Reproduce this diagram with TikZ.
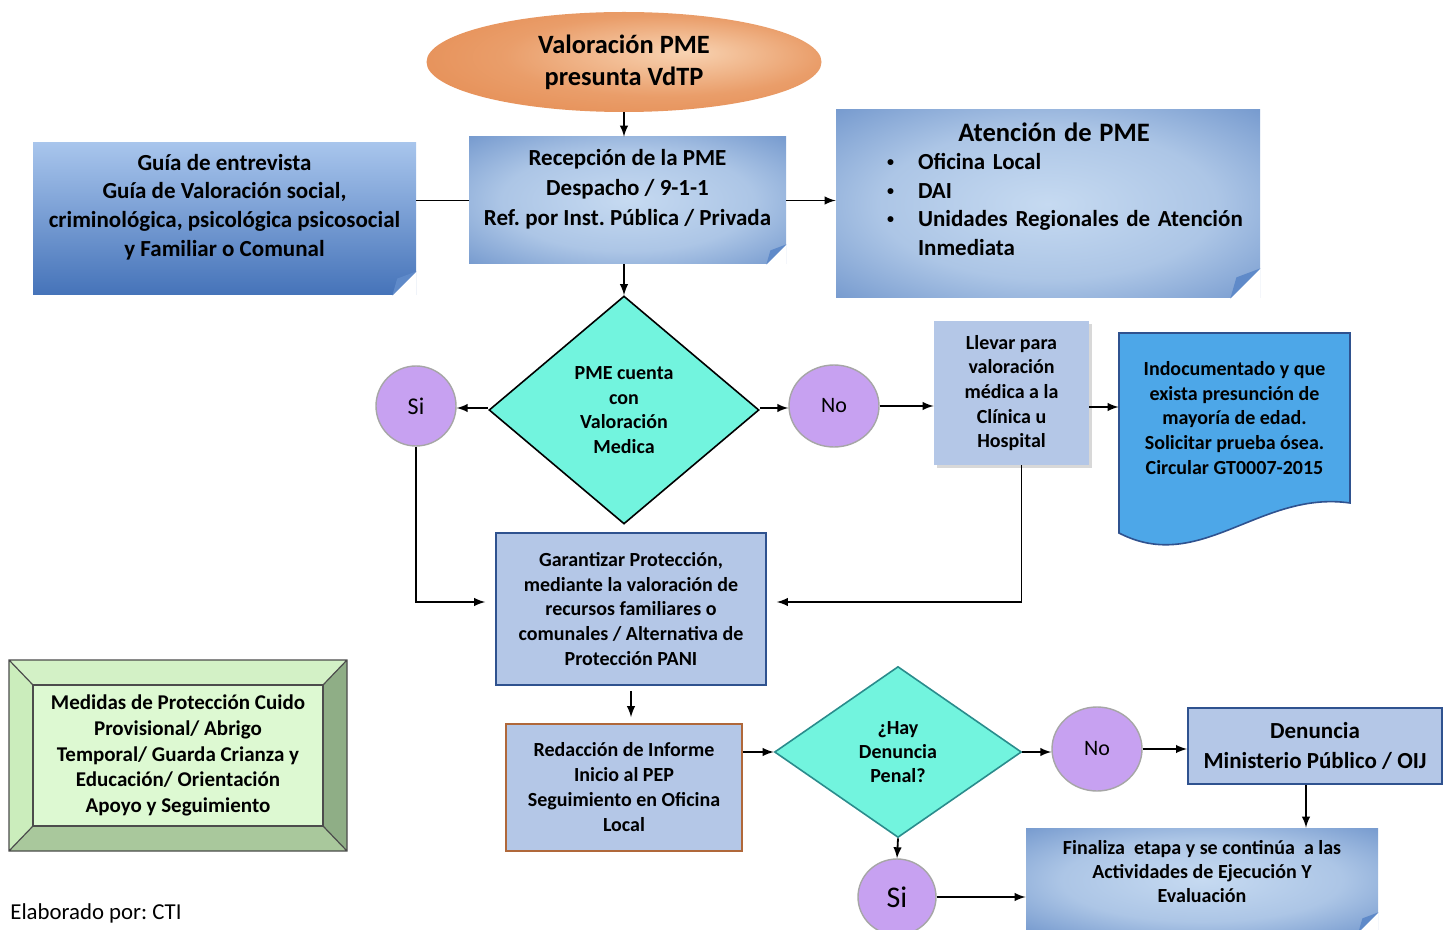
\documentclass[tikz,border=0pt]{standalone}
\usepackage{fontspec}
\setmainfont{Carlito}
\frenchspacing
\usetikzlibrary{calc}
\usetikzlibrary{arrows}
\usetikzlibrary{shapes.geometric}
\usetikzlibrary{shadows}

\definecolor{boxblue}{HTML}{4573B9}
\definecolor{boxblueIn}{HTML}{C6DAF1}
\definecolor{guiaTop}{HTML}{A8C5EC}
\definecolor{foldblue}{HTML}{5F8AC9}
\definecolor{paleblue}{HTML}{B4C7E7}
\definecolor{navyline}{HTML}{2F528F}
\definecolor{brownline}{HTML}{B0683A}
\definecolor{aqua}{HTML}{72F4DE}
\definecolor{tealline}{HTML}{2A8C8C}
\definecolor{lilac}{HTML}{C7A1F1}
\definecolor{docblue}{HTML}{4DA7E8}
\definecolor{orangeOut}{HTML}{E07A3A}
\definecolor{orangeIn}{HTML}{F8D3B2}
\definecolor{gTop}{HTML}{D3F1C6}
\definecolor{gLeft}{HTML}{CBEDBC}
\definecolor{gRight}{HTML}{8FAE86}
\definecolor{gBot}{HTML}{A9C89C}
\definecolor{gIn}{HTML}{DDF9D2}

\pgfdeclareradialshading{bluesoft}{\pgfpoint{0bp}{0bp}}{color(0bp)=(boxblueIn); color(20bp)=(boxblueIn!80!boxblue); color(50bp)=(boxblue); color(75bp)=(boxblue!80!black)}
\pgfdeclareradialshading{orangesoft}{\pgfpoint{8bp}{5bp}}{color(0bp)=(orangeIn); color(20bp)=(orangeIn!40!orangeOut); color(50bp)=(orangeOut)}

\newcommand{\pagefold}[2]{%
  \fill[white] ([xshift=-#2]#1.south east) -- (#1.south east) -- ([yshift=#2]#1.south east) -- cycle;
  \fill[foldblue] ([xshift=-#2]#1.south east) -- ([yshift=#2]#1.south east) -- ([xshift=-0.8*#2,yshift=0.7*#2]#1.south east) -- cycle;}
\newcommand{\smallbullet}{\makebox[15.5pt][l]{\fontsize{7}{7}\selectfont\raisebox{0.45ex}{\textbullet}}}

\begin{document}
\begin{tikzpicture}[x=0.5pt, y=-0.5pt, >=latex,
    flow/.style={->, line width=0.9pt},
    foldbox/.style={shading=bluesoft, inner sep=0pt},
    boxtext/.style={align=center, font=\bfseries\fontsize{11.5}{14.3}\selectfont},
    palebox/.style={fill=paleblue, align=center, inner sep=0pt, font=\bfseries\fontsize{10}{12.3}\selectfont},
    query/.style={diamond, fill=aqua, align=center, inner sep=0pt, font=\bfseries\fontsize{10}{12.4}\selectfont},
    answer/.style={ellipse, fill=lilac, draw=black!35, line width=0.7pt, inner sep=0pt, font=\fontsize{11}{13}\selectfont}]
    \path[fill=white, use as bounding box] (0,0) rectangle (1451,930);

    \node[ellipse, shading=orangesoft, minimum width=197.5pt, minimum height=50pt, inner sep=0pt, align=center, font=\bfseries\fontsize{13.2}{16}\selectfont] (valor) at (624,62) {Valoración PME\\presunta VdTP};

    \node[top color=guiaTop, bottom color=boxblue, minimum width=191.5pt, minimum height=76pt] (guia) at (224.5,219) {};
    \pagefold{guia}{12pt}
    \node[boxtext] (guiaT) at (224.5,207) {Guía de entrevista\\Guía de Valoración social,\\criminológica, psicológica psicosocial\\y Familiar o Comunal};

    \node[foldbox, minimum width=158.5pt, minimum height=63.5pt] (recep) at (627.5,200.5) {};
    \pagefold{recep}{10pt}
    \node[boxtext, font=\bfseries\fontsize{11.5}{15}\selectfont] (recepT) at (627.5,189) {Recepción de la PME\\Despacho / 9-1-1\\Ref. por Inst. Pública / Privada};

    \node[foldbox, minimum width=212pt, minimum height=94pt] (aten) at (1048,204) {};
    \pagefold{aten}{15pt}
    \node[text width=193pt, inner sep=0pt, font=\bfseries\fontsize{11.5}{14.3}\selectfont] (atenT) at (1054,189) {%
      \hyphenpenalty=10000 \exhyphenpenalty=10000
      {\centering\fontsize{13.3}{16}\selectfont Atención de PME\par}
      \noindent\hspace*{13pt}\smallbullet Oficina Local\par
      \noindent\hspace*{13pt}\smallbullet DAI\par
      \noindent\hangindent=28.5pt\hspace*{13pt}\smallbullet Unidades Regionales de Atención Inmediata\par};

    \node[query, draw=black, line width=0.8pt, minimum width=135pt, minimum height=114pt] (query) at (624,410) {PME cuenta\\con\\Valoración\\Medica};
    \node[answer, minimum width=40pt, minimum height=40pt, font=\fontsize{12}{14}\selectfont] (si) at (416,406) {Si};
    \node[answer, minimum width=45pt, minimum height=41pt] (no) at (834,406) {No};
    \node[palebox, minimum width=77.5pt, minimum height=72pt, drop shadow={shadow xshift=1.5pt, shadow yshift=-1.5pt, opacity=0.3}] (llevar) at (1011.5,393) {Llevar para\\valoración\\médica a la\\Clínica u\\Hospital};

    \filldraw[fill=docblue, draw=navyline, line width=0.8pt] (1119,333) -- (1350,333) -- (1350,503) .. controls (1260,490) and (1200,575) .. (1119,533) -- cycle;
    \node[align=center, minimum width=115.5pt, inner sep=0pt, font=\bfseries\fontsize{10}{12.3}\selectfont] (indoc) at (1234.5,418) {Indocumentado y que\\exista presunción de\\mayoría de edad.\\Solicitar prueba ósea.\\Circular GT0007-2015};

    \node[palebox, draw=navyline, line width=0.8pt, minimum width=135pt, minimum height=76pt] (garant) at (631,609) {Garantizar Protección,\\mediante la valoración de\\recursos familiares o\\comunales / Alternativa de\\Protección PANI};
    \node[palebox, draw=brownline, line width=0.8pt, minimum width=118pt, minimum height=63.5pt, font=\bfseries\fontsize{10}{12.5}\selectfont] (redac) at (624,787.5) {Redacción de Informe\\Inicio al PEP\\Seguimiento en Oficina\\Local};
    \node[query, draw=tealline, line width=0.8pt, minimum width=123.5pt, minimum height=85.5pt, font=\bfseries\fontsize{10}{12}\selectfont] (query2) at (898,752) {¿Hay\\Denuncia\\Penal?};
    \node[answer, minimum width=45pt, minimum height=42pt] (no2) at (1097,749) {No};
    \node[palebox, draw=navyline, line width=1pt, minimum width=127pt, minimum height=38pt, font=\bfseries\fontsize{11.5}{15}\selectfont] (denun) at (1315,746) {Denuncia\\Ministerio Público / OIJ};

    \node[foldbox, minimum width=176pt, minimum height=52pt] (final) at (1202,880) {};
    \pagefold{final}{10pt}
    \node[align=center, font=\bfseries\fontsize{10}{12}\selectfont] (finalT) at (1202,872) {Finaliza~~etapa y se continúa~~a las\\Actividades de Ejecución Y\\Evaluación};
    \node[answer, minimum width=39pt, minimum height=38pt, font=\fontsize{15}{17}\selectfont] (si2) at (897,897) {Si};

    \fill[gTop] (9,660) -- (347,660) -- (323,685) -- (33,685) -- cycle;
    \fill[gLeft] (9,660) -- (33,685) -- (33,826) -- (9,851) -- cycle;
    \fill[gRight] (347,660) -- (347,851) -- (323,826) -- (323,685) -- cycle;
    \fill[gBot] (9,851) -- (33,826) -- (323,826) -- (347,851) -- cycle;
    \draw[black!70, line width=0.6pt] (9,660) rectangle (347,851) (9,660) -- (33,685) (347,660) -- (323,685) (9,851) -- (33,826) (347,851) -- (323,826);
    \node[fill=gIn, draw=black!70, line width=0.6pt, minimum width=145pt, minimum height=70.5pt, inner sep=0pt, align=center, font=\bfseries\fontsize{10.5}{12.8}\selectfont] (medidas) at (178,755.5) {Medidas de Protección Cuido\\Provisional/ Abrigo\\Temporal/ Guarda Crianza y\\Educación/ Orientación\\Apoyo y Seguimiento};

    \node[anchor=west, inner sep=0pt, font=\fontsize{11.4}{13}\selectfont] (autor) at (10,913) {Elaborado por: CTI};

    \draw[flow] (valor.south) -- (valor.south |- recep.north);
    \draw[line width=0.9pt] (recep.west -| guia.east) -- (recep.west);
    \draw[flow] (recep.east) -- (recep.east -| aten.west);
    \draw[flow] (query.north |- recep.south) -- (query.north);
    \draw[flow] ([yshift=1pt]query.west) -- ([yshift=1pt]query.west -| si.east);
    \draw[flow] ([yshift=1pt]query.east) -- ([yshift=1pt]query.east -| no.west);
    \draw[flow] (no.east) -- (no.east -| llevar.west);
    \draw[flow] ([yshift=-7pt]llevar.east) -- ([yshift=-7pt]llevar.east -| indoc.west);
    \draw[flow, shorten >=5pt] (si.south) |- ([yshift=3.5pt]garant.west);
    \draw[flow, shorten >=5pt] ([xshift=5pt]llevar.south) |- ([yshift=3.5pt]garant.east);
    \draw[flow, shorten <=2.5pt, shorten >=3pt] (garant.south) -- (garant.south |- redac.north);
    \draw[flow] (redac.east |- query2.west) -- (query2.west);
    \draw[flow] (query2.east) -- (query2.east -| no2.west);
    \draw[flow] (no2.east) -- (no2.east -| denun.west);
    \draw[flow] ([xshift=-4.5pt]denun.south) -- ([xshift=-4.5pt]denun.south |- final.north);
    \draw[flow] (query2.south) -- (si2.north);
    \draw[flow] (si2.east) -- (si2.east -| final.west);
\end{tikzpicture}
\end{document}
